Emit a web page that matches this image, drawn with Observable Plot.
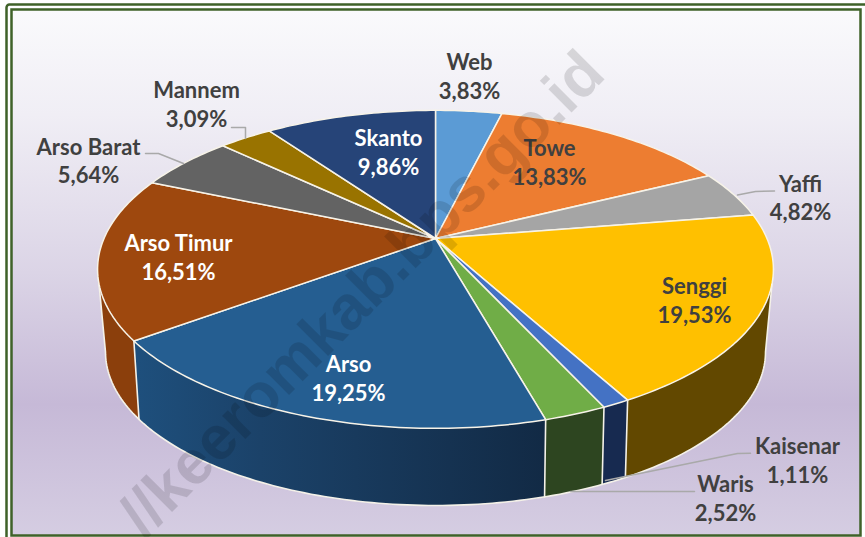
<!DOCTYPE html>
<html><head><meta charset="utf-8">
<script src="https://cdn.jsdelivr.net/npm/d3@7"></script>
<script src="https://cdn.jsdelivr.net/npm/@observablehq/plot@0.6"></script>
<style>html,body{margin:0;padding:0;background:#fff}svg{display:block}</style>
</head><body><div id="chart"></div>
<script>
const names = ["Web","Towe","Yaffi","Senggi","Kaisenar","Waris","Arso","Arso Timur","Arso Barat","Mannem","Skanto"];
const shares = [3.83,13.83,4.82,19.53,1.11,2.52,19.25,16.51,5.64,3.09,9.86];
const topColors = ["#5b9bd5","#ed7d31","#a5a5a5","#ffc000","#4472c4","#70ad47","#255e91","#9e480e","#636363","#997300","#264478"];
const wallColors = ["#35597e","#8c4a1d","#626262","#624800","#172a50","#2d4520","url(#arsoWall)","#8b3f0c","#3b3b3b","#5b4400","#16294a"];
const labelX  = [469,549,800,694,797,725,348,178,88,196,388];
const labelY1 = [62,148,184,286,446,484,364,243,147,90,138];
const labelY2 = [91,177,212,315,475,513,393,272,175,119,167];
const labelColors = ["#404040","#404040","#404040","#404040","#404040","#404040","#fff","#fff","#404040","#404040","#fff"];
const leaders = [
  {id:"Mannem", pts:[[231,127],[245,127],[245,138]]},
  {id:"Arso Barat", pts:[[145,153],[158,153],[183,163]]},
  {id:"Yaffi", pts:[[737,194.5],[755,191],[774,190.5]]},
  {id:"Kaisenar", pts:[[750,452.7],[737,453],[605,480]]},
  {id:"Waris", pts:[[694,491],[570,491]]}
];
const W = 865, H = 537;
const topRim = {cx:435, cy:238, a:331.5, b:153, k:0.194};
const botRim = {cx:435, cy:319.5, a:322.8, b:146.9, k:0.208};
const project = (p, deg) => {
  const t = deg*Math.PI/180, u = Math.sin(t), v = Math.cos(t), w = 1+p.k*v;
  return [p.cx+p.a*u/w, p.cy-p.b*v/w];
};
// silhouette: where each rim reaches its widest point
const extreme = (p,sign,from,to) => d3.greatest(d3.range(from,to,.5),d=>sign*project(p,d)[0]);
const tR = {top:extreme(topRim,1,40,140), bot:extreme(botRim,1,40,140)};
const tL = {top:extreme(topRim,-1,220,320), bot:extreme(botRim,-1,220,320)};
const total = d3.sum(shares);
const cum = d3.cumsum(shares);
const slices = names.map((name,i)=>({name,i,start:(i?cum[i-1]:0)/total*360,end:cum[i]/total*360}));
const arc = (p,a,b)=>{const n=Math.max(2,Math.ceil(Math.abs(b-a)));return d3.range(n+1).map(j=>project(p,a+(b-a)*j/n));};
const faceRows=[], wallRows=[], seamRows=[];
for(const s of slices){
  faceRows.push({z:s.name,p:[topRim.cx,topRim.cy],f:topColors[s.i]});
  for(const q of arc(topRim,s.start,s.end)) faceRows.push({z:s.name,p:q,f:topColors[s.i]});
  const a0=Math.max(s.start,tR.top), a1=Math.min(s.end,tL.top), b0=Math.max(s.start,tR.bot), b1=Math.min(s.end,tL.bot);
  if(a1>a0){
    for(const q of [...arc(topRim,a0,a1),...arc(botRim,b1,b0)]) wallRows.push({z:s.name,p:q,f:wallColors[s.i]});
    for(const e of [s.start,s.end]) if(e>tR.top && e<tL.top)
      seamRows.push({z:"seam"+e,p:project(topRim,e)},{z:"seam"+e,p:project(botRim,e)});
  }
}
const contour=[project(topRim,tR.top),...arc(botRim,tR.bot,tL.bot),project(topRim,tL.top)];
const labels=names.map((n,i)=>({n,x:labelX[i],y1:labelY1[i],y2:labelY2[i],v:shares[i].toFixed(2).replace(".",",")+"%",c:labelColors[i]}));
const leaderRows=leaders.flatMap(l=>l.pts.map(p=>({z:l.id,p})));
const defs=()=>{
  const d=d3.create("svg:defs");
  const g=d.append("linearGradient").attr("id","bg").attr("x1",0).attr("y1",0).attr("x2",0).attr("y2",1);
  for(const [o,c] of [[0,"#fafafc"],[.2,"#f0eef5"],[.5,"#dbd4e6"],[.75,"#c6b9d7"],[1,"#d5cde2"]])
    g.append("stop").attr("offset",o).attr("stop-color",c);
  const a=d.append("linearGradient").attr("id","arsoWall").attr("gradientUnits","userSpaceOnUse")
    .attr("x1",project(botRim,slices[6].end)[0]).attr("y1",0).attr("x2",project(botRim,slices[6].start)[0]).attr("y2",0);
  a.append("stop").attr("offset",0).attr("stop-color","#1e4f7c");
  a.append("stop").attr("offset",.3).attr("stop-color","#1b4269");
  a.append("stop").attr("offset",1).attr("stop-color","#122a45");
  return d.node();
};
const font="Lato";
const X=d=>d.p[0], Y=d=>d.p[1];
const plot=Plot.plot({
  width:W,height:H,margin:0,
  x:{domain:[0,W],range:[0,W],axis:null},
  y:{domain:[0,H],range:[0,H],axis:null},
  style:{background:"#fff",fontFamily:font},
  marks:[
    defs,
    Plot.frame({stroke:"#3f6229",strokeWidth:2.5,insetLeft:6,insetTop:4,insetRight:-6,insetBottom:-6,r:3}),
    Plot.frame({fill:"url(#bg)",stroke:"#3f6229",strokeWidth:2.5,insetLeft:11,insetTop:9,insetRight:5,insetBottom:2}),
    Plot.line(wallRows,{x:X,y:Y,z:"z",fill:{value:"f",scale:null},curve:"linear-closed"}),
    Plot.line(contour,{x:d=>d[0],y:d=>d[1],stroke:"#f4f1e8",strokeWidth:1.6}),
    Plot.line(seamRows,{x:X,y:Y,z:"z",stroke:"#f4f1e8",strokeWidth:1.6}),
    Plot.line(faceRows,{x:X,y:Y,z:"z",fill:{value:"f",scale:null},stroke:"#f7f3e8",strokeWidth:1.5,strokeLinejoin:"round",curve:"linear-closed"}),
    Plot.line(leaderRows,{x:X,y:Y,z:"z",stroke:"#a9a9a9",strokeWidth:1.5}),
    Plot.text(labels,{x:"x",y:"y1",text:"n",fill:{value:"c",scale:null},fontSize:22,fontWeight:700,fontFamily:font,textAnchor:"middle",lineAnchor:"middle"}),
    Plot.text(labels,{x:"x",y:"y2",text:"v",fill:{value:"c",scale:null},fontSize:22,fontWeight:700,fontFamily:font,textAnchor:"middle",lineAnchor:"middle"}),
    Plot.text(["//keeromkab.bps.go.id"],{x:[593],y:[62],text:d=>d,rotate:-45,fill:"#000",fillOpacity:.13,fontFamily:"Liberation Sans",fontWeight:700,fontSize:62,textAnchor:"end",lineAnchor:"middle"})
  ]
});
document.getElementById("chart").appendChild(plot);
</script></body></html>
